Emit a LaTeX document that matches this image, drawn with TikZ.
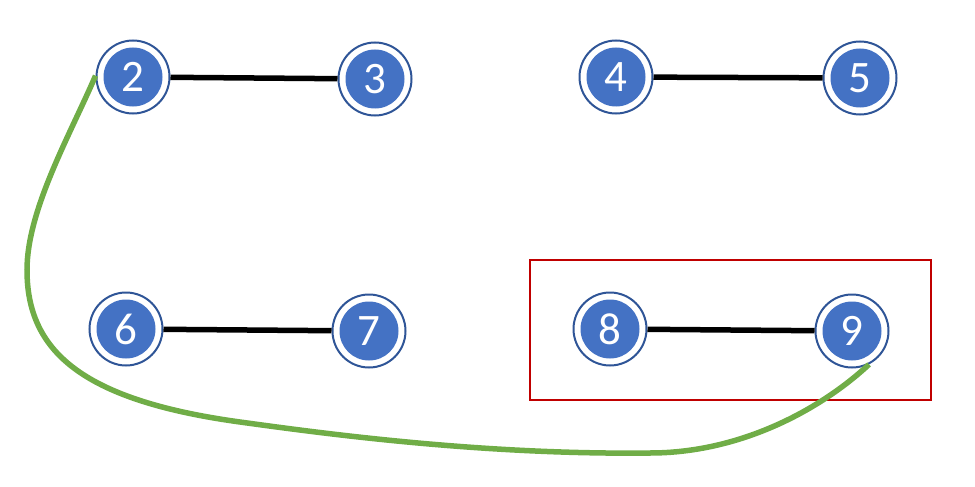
\documentclass[tikz,border=0pt]{standalone}
\usepackage{fontspec}
\setmainfont{Carlito}
\definecolor{nodeblue}{HTML}{4472C4}
\definecolor{ringblue}{HTML}{2F5597}
\definecolor{curvegreen}{HTML}{70AD47}
\definecolor{boxred}{HTML}{C00000}
\begin{document}
\begin{tikzpicture}[x=1pt,y=-1pt,
  vertex/.style={circle, minimum size=73pt, inner sep=0pt,
    draw=ringblue, line width=2pt, fill=white, text=white,
    font=\fontsize{45}{45}\selectfont,
    path picture={\fill[nodeblue] (path picture bounding box.center) circle (29.5pt);}},
  link/.style={line width=5.5pt, black},
  bridge/.style={line width=5.5pt, curvegreen},
  frame/.style={line width=2.8pt, boxred}]
  \useasboundingbox (0,0) rectangle (975,487);

  % grouping frame around the 8--9 pair
  \draw[frame] (530,260) rectangle (931,400);

  % vertices
  \node[vertex] (n2) at (133,77) {2};
  \node[vertex] (n3) at (375,79) {3};
  \node[vertex] (n4) at (616,77) {4};
  \node[vertex] (n5) at (860,78) {5};
  \node[vertex] (n6) at (126,329) {6};
  \node[vertex] (n7) at (369,331) {7};
  \node[vertex] (n8) at (610,329) {8};
  \node[vertex] (n9) at (852,331) {9};

  % straight edges
  \draw[link] (n2) -- (n3);
  \draw[link] (n4) -- (n5);
  \draw[link] (n6) -- (n7);
  \draw[link] (n8) -- (n9);

  % long curved edge from 2 to 9
  \draw[bridge] (n2.178)
    .. controls (70,135) and (27,210) .. (27,270)
    .. controls (27,350) and (80,400) .. (240,422)
    .. controls (320,433) and (480,455) .. (650,453)
    .. controls (740,453) and (820,410) .. (n9.297);
\end{tikzpicture}
\end{document}
